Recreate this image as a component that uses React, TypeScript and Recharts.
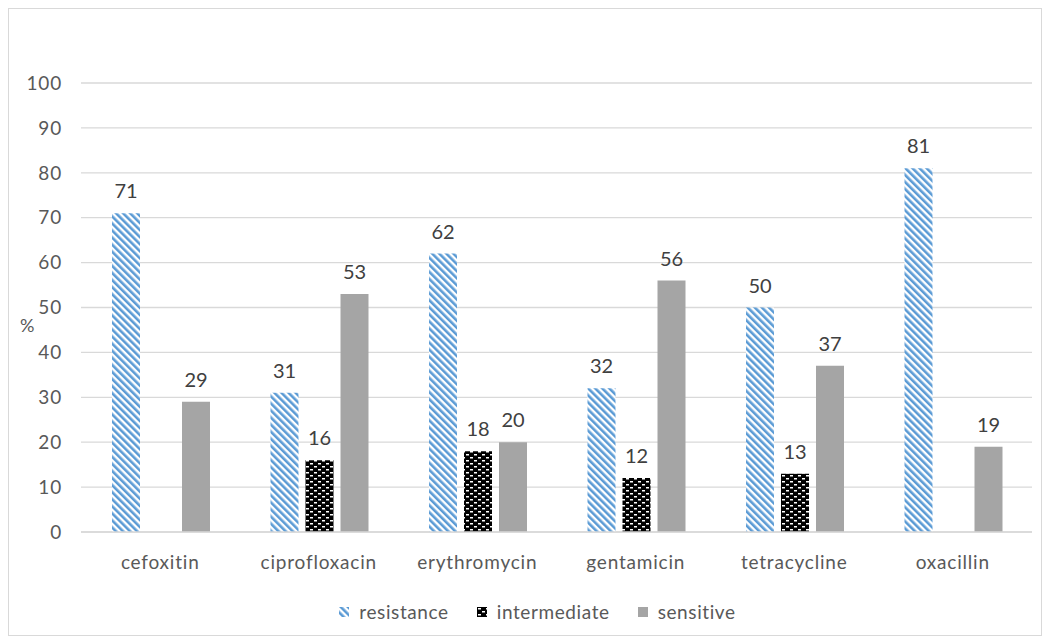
import { BarChart, Bar, XAxis, YAxis, CartesianGrid, Legend, LabelList } from "recharts";

// antibiotic susceptibility (%)
const antibiotics = ["cefoxitin", "ciprofloxacin", "erythromycin", "gentamicin", "tetracycline", "oxacillin"];
const resistance = [71, 31, 62, 32, 50, 81];
const intermediate: (number | null)[] = [null, 16, 18, 12, 13, null];
const sensitive = [29, 53, 20, 56, 37, 19];
const yTicks = [0, 10, 20, 30, 40, 50, 60, 70, 80, 90, 100];

const FONT = "Lato, 'Open Sans', sans-serif";
const BLUE = "#5B9BD5";
const GRAY = "#A5A5A5";
const TEXT = "#595959";

const series = [
  { key: "resistance", fill: "url(#stripes)" },
  { key: "intermediate", fill: "url(#checks)" },
  { key: "sensitive", fill: GRAY },
];

const chartData = antibiotics.map((name, i) => ({
  name,
  resistance: resistance[i],
  intermediate: intermediate[i],
  sensitive: sensitive[i],
}));

function LegendContent() {
  return (
    <div style={{ display: "flex", justifyContent: "center", gap: 28, paddingLeft: 34, fontFamily: FONT, fontSize: 19, letterSpacing: 0.6, color: TEXT }}>
      {series.map(s => (
        <div key={s.key} style={{ display: "flex", alignItems: "center", gap: 10 }}>
          <svg width={10} height={10}>
            <rect width={10} height={10} fill={s.fill} />
          </svg>
          <span>{s.key}</span>
        </div>
      ))}
    </div>
  );
}

export default function App() {
  return (
    <div style={{ width: 1034, height: 628, border: "1px solid #d9d9d9", boxSizing: "border-box", background: "#fff" }}>
      <BarChart
        width={1032}
        height={626}
        data={chartData}
        margin={{ top: 74, right: 9, left: 0, bottom: 50 }}
        barGap={7}
        barCategoryGap={31}
      >
        <defs>
          <pattern id="stripes" width={5} height={5} patternUnits="userSpaceOnUse" patternTransform="rotate(-45)">
            <rect width={5} height={5} fill="#fff" />
            <rect width={2.6} height={5} fill={BLUE} />
          </pattern>
          <pattern id="checks" width={8} height={6} patternUnits="userSpaceOnUse">
            <rect width={8} height={6} fill="#000" />
            <rect x={1} y={1} width={3} height={1.5} fill="#fff" />
            <rect x={5} y={4} width={3} height={1.5} fill="#fff" />
          </pattern>
        </defs>
        <CartesianGrid vertical={false} stroke="#d9d9d9" strokeWidth={1.3} />
        <XAxis
          dataKey="name"
          axisLine={{ stroke: "#d9d9d9", strokeWidth: 1.3 }}
          tickLine={false}
          tickSize={0}
          tickMargin={24}
          height={30}
          tick={{ fill: TEXT, fontSize: 19, fontFamily: FONT, letterSpacing: 0.8 }}
        />
        <YAxis
          domain={[0, 100]}
          ticks={yTicks}
          width={72}
          axisLine={false}
          tickLine={false}
          tickSize={0}
          tickMargin={19}
          tick={{ fill: TEXT, fontSize: 19, fontFamily: FONT, letterSpacing: 0.8 }}
          label={{ value: "%", position: "insideLeft", offset: 11, dy: 18, fill: TEXT, fontSize: 18, fontFamily: FONT }}
        />
        <Legend verticalAlign="bottom" wrapperStyle={{ bottom: 12 }} content={<LegendContent />} />
        {series.map(s => (
          <Bar key={s.key} dataKey={s.key} fill={s.fill} isAnimationActive={false}>
            <LabelList dataKey={s.key} position="top" offset={15} fill="#404040" fontSize={20} fontFamily={FONT} />
          </Bar>
        ))}
      </BarChart>
    </div>
  );
}
